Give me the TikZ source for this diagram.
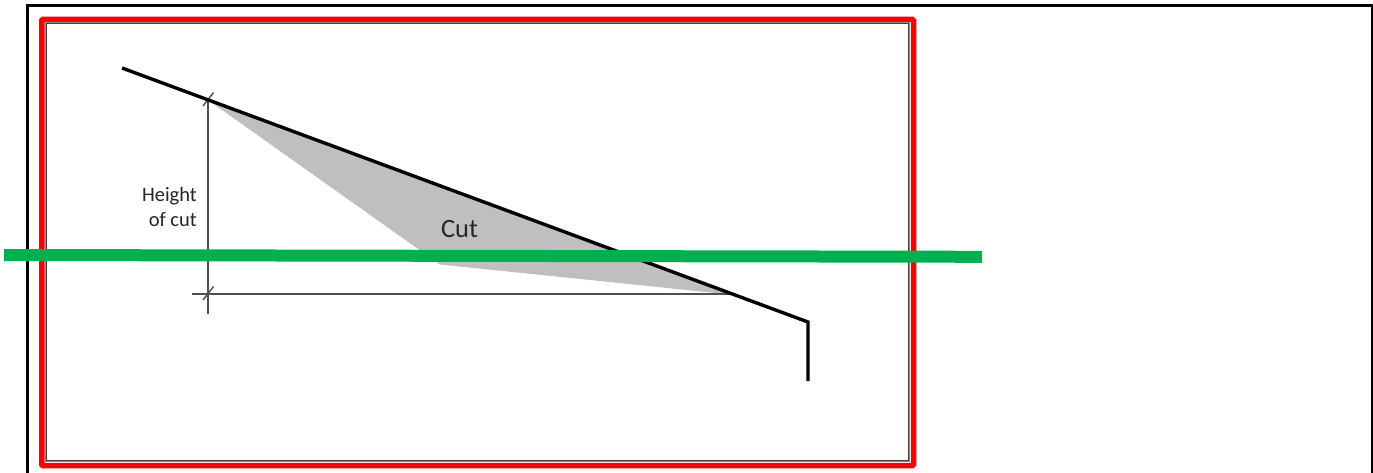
\documentclass[tikz,border=0pt]{standalone}
\usepackage{fontspec}
\setmainfont{Carlito}
\usepackage{xcolor}
\usetikzlibrary{calc}
\definecolor{framered}{HTML}{FF0000}
\definecolor{cutgreen}{HTML}{00B050}
\definecolor{cutgrey}{HTML}{BFBFBF}
\definecolor{dimgrey}{HTML}{505050}
\tikzset{
  roofline/.style={draw=black, line width=3.4pt, line join=miter},
  dimline/.style={draw=dimgrey, line width=1.4pt},
  label/.style={inner sep=0pt, text=black!85, font=\fontsize{20.5}{25}\selectfont}
}
\newcommand{\slashtick}[1]{
\draw[dimline] ($(#1) + (-5,6)$) -- ($(#1) + (5.5,-7.5)$);
}

\begin{document}
\begin{tikzpicture}[x=1pt, y=-1pt]
\useasboundingbox (0,0) rectangle (1373,473);
\coordinate (framea) at (27.5,5.5);
\coordinate (frameb) at (1372,5.5);
\coordinate (framec) at (1372,473);
\coordinate (framed) at (27.5,473);
\coordinate (eaves) at (122,68);
\coordinate (top) at (208,100);
\coordinate (foot) at (735,295);
\coordinate (knee) at (808,322);
\coordinate (wall) at (808,381);
\coordinate (inner) at (440,264.5);
\coordinate (corner) at (208,294);
\coordinate (vend) at (208,314);
\coordinate (hend) at (192,294);
\coordinate (hstop) at (735,294);
\coordinate (greena) at (4,255);
\coordinate (greenb) at (982,256.8);
\draw[black, line width=2.6pt] (framed) -- (framea) -- (frameb) -- (framec);
\draw[framered, line width=5.5pt, rounded corners=1pt] (41.8,19.5) rectangle (913.5,465.5);
\draw[black!45, line width=1.8pt] (45.6,23.4) rectangle (908.8,461);
\draw[black!75, line width=1pt] (46,23.8) rectangle (908.6,460.8);
\fill[cutgrey] (top) -- (foot) -- (inner) -- cycle;
\draw[dimline] (top) -- (vend);
\draw[dimline] (hend) -- (hstop);
\slashtick{top}
\slashtick{corner}
\draw[roofline] (eaves) -- (knee) -- (wall);
\node[label, anchor=base east] at (197,201) (height) {Height};
\node[label, anchor=base east] at (197,226) (ofcut) {of cut};
\node[label, anchor=base, font=\fontsize{26.5}{25}\selectfont] at (459.5,237) (cut) {Cut};
\draw[cutgreen, line width=12pt] (greena) -- (greenb);
\end{tikzpicture}
\end{document}
